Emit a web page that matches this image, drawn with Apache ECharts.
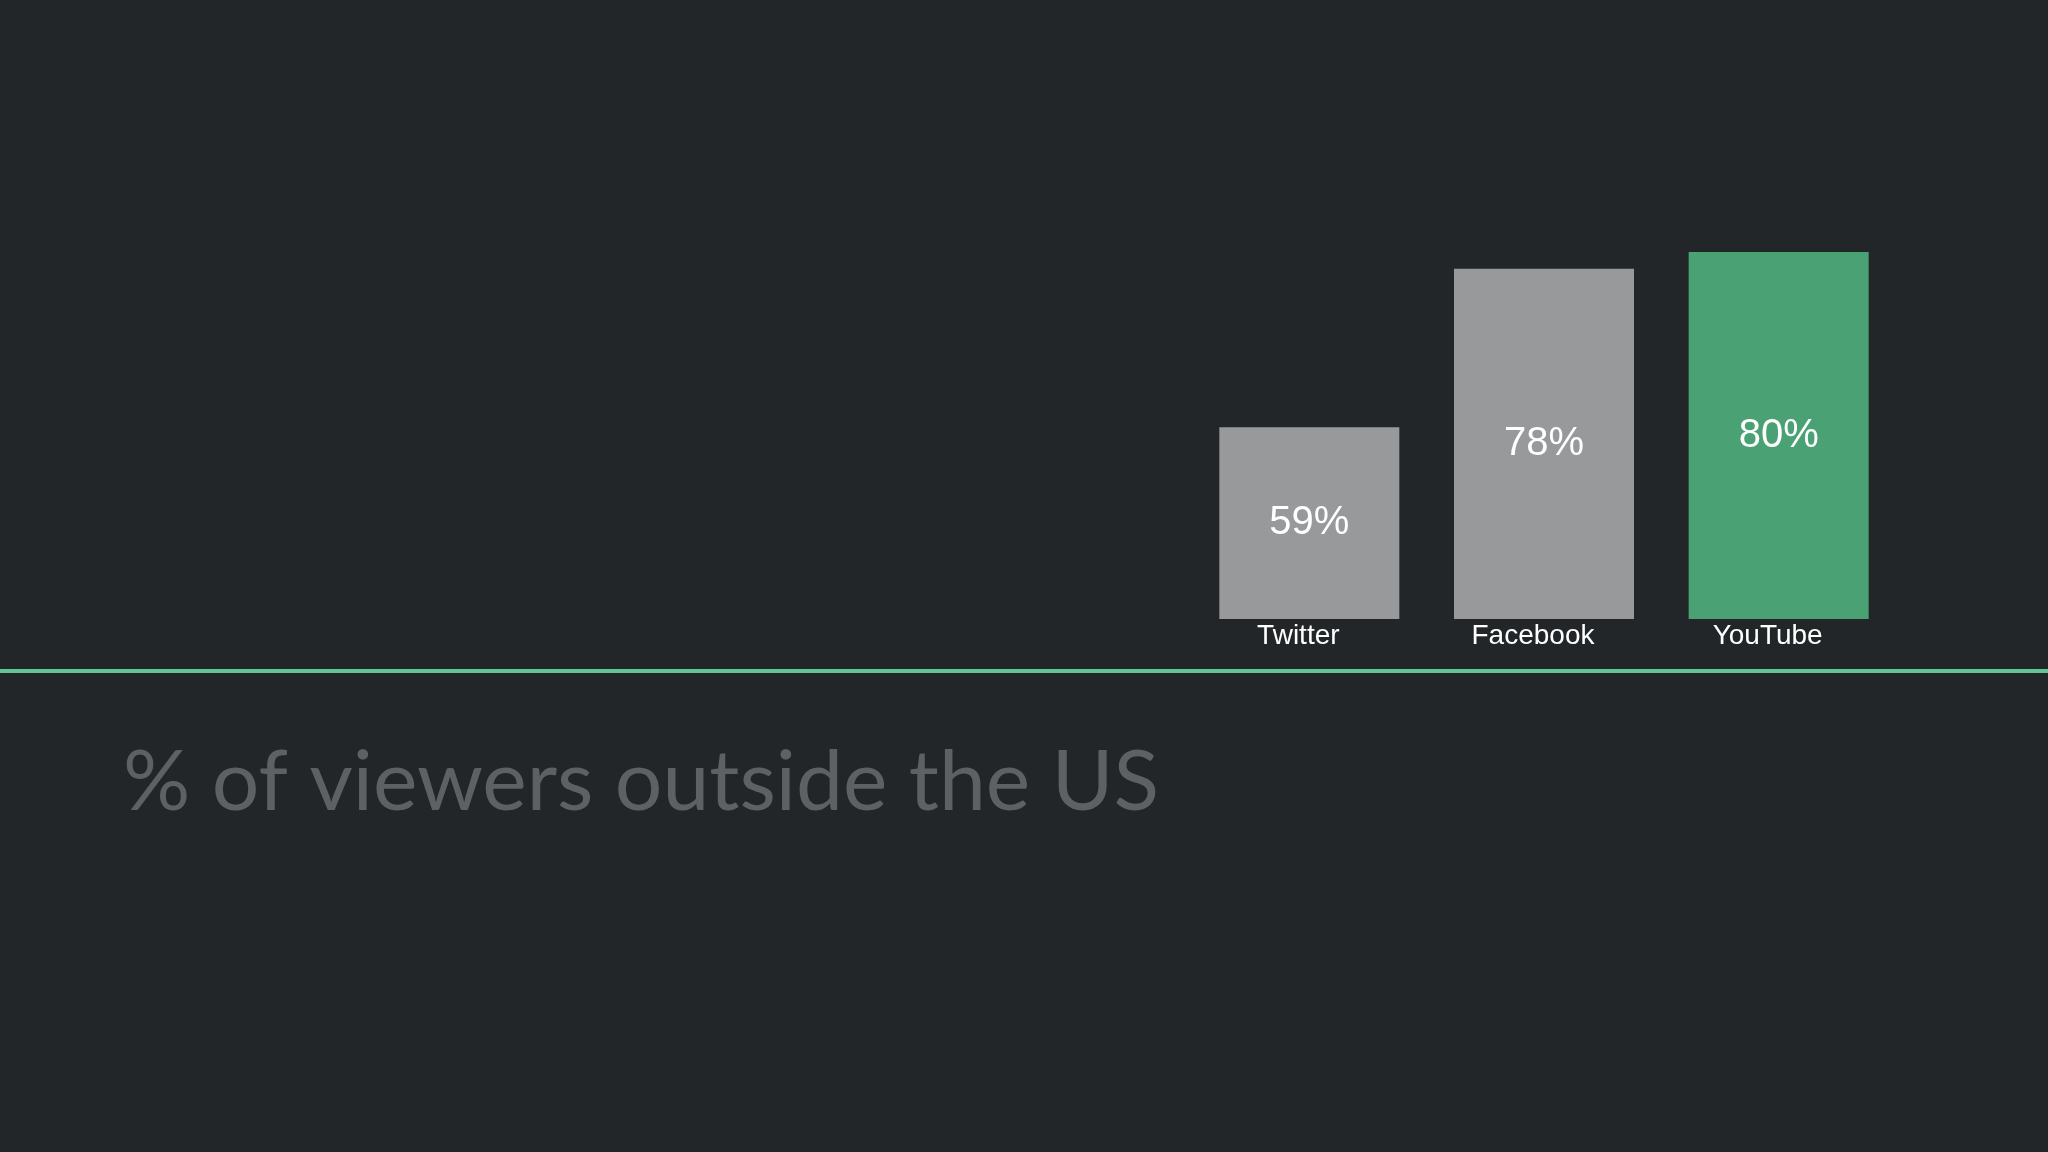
<!DOCTYPE html>
<html>
<head>
<meta charset="utf-8">
<title>% of viewers outside the US</title>
<script src="https://cdn.jsdelivr.net/npm/echarts@6/dist/echarts.min.js"></script>
<style>
  html, body { margin: 0; padding: 0; background: #222628; }
  #chart { width: 2048px; height: 1152px; }
</style>
</head>
<body>
<div id="chart"></div>
<script>
// 数据
var platforms = ['Twitter', 'Facebook', 'YouTube'];
var shareOutsideUS = [59, 78, 80];
var barColors = ['#98999a', '#98999a', '#4aa173'];

var chart = echarts.init(document.getElementById('chart'));

var option = {
    backgroundColor: '#222628',
    animation: false,
    title: {
        text: '% of viewers outside the US',
        left: 118,
        top: 736,
        textStyle: {
            fontFamily: 'Lato',
            fontWeight: 'normal',
            fontSize: 84,
            color: '#5d6163'
        }
    },
    grid: {
        left: 1192,
        right: 152,
        top: 252,
        bottom: 533
    },
    xAxis: {
        type: 'category',
        data: platforms,
        axisLine: { show: false },
        axisTick: { show: false },
        axisLabel: {
            color: '#ffffff',
            fontFamily: 'Liberation Sans',
            fontSize: 28,
            margin: 3,
            padding: [0, 22, 0, 0]
        }
    },
    yAxis: {
        type: 'value',
        min: 36,
        max: 80,
        show: false,
        splitLine: { show: false }
    },
    series: [{
        type: 'bar',
        barWidth: 180,
        data: shareOutsideUS.map(function (v, i) {
            return { value: v, itemStyle: { color: barColors[i] } };
        }),
        label: {
            show: true,
            position: 'inside',
            formatter: '{c}%',
            color: '#ffffff',
            fontFamily: 'Liberation Sans',
            fontSize: 40
        }
    }],
    graphic: [{
        type: 'rect',
        left: 0,
        top: 669,
        shape: { width: 2048, height: 4 },
        style: { fill: '#62c692' }
    }]
};

chart.setOption(option);
</script>
</body>
</html>
